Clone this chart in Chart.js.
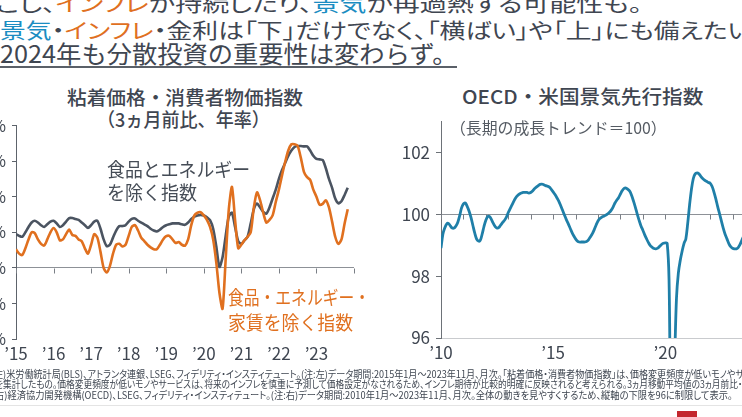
<!DOCTYPE html>
<html lang="ja">
<head>
<meta charset="utf-8">
<title>粘着価格・消費者物価指数 / OECD・米国景気先行指数</title>
<script src="https://cdn.jsdelivr.net/npm/chart.js@4.4.0/dist/chart.umd.min.js"></script>
<style>
  html, body { margin: 0; padding: 0; }
  body {
    width: 742px; height: 417px; overflow: hidden; position: relative;
    background: #fff; color: #3f4651;
    font-family: "Noto Sans CJK JP", "Noto Sans", sans-serif;
  }
  .t { position: absolute; white-space: nowrap; line-height: 1; display: inline-block; transform-origin: 0 0; }
  .p { font-feature-settings: "palt" 1; }
  .or { color: #e0701f; }
  .bl { color: #1b8dc2; }
  canvas { position: absolute; }
  #underline { position: absolute; left: 0; top: 66px; width: 457px; height: 2px; background: #5a6068; }
  #sep { position: absolute; left: 0; top: 405px; width: 742px; height: 1px; background: #e4e4e4; }
  #logo { position: absolute; left: 677px; top: 411px; width: 20px; height: 6px; background: #c3272e; }
</style>
</head>
<body>

<div class="t p" style="left:-4px; top:-8px; font-size:21px" data-w="646">こし、<span class="or">インフレ</span>が持続したり、<span class="bl">景気</span>が再過熱する可能性も。</div>
<div class="t p" style="left:0; top:19px; font-size:21px" data-w="752"><span class="bl">景気</span>・<span class="or">インフレ</span>・金利は「下」だけでなく、「横ばい」や「上」にも備えたい</div>
<div class="t" style="left:0; top:41px; font-size:24px" data-w="457">2024年も分散投資の重要性は変わらず。</div>
<div id="underline"></div>

<div class="t" style="left:67px; top:87px; font-size:19px; font-weight:500" data-w="236">粘着価格・消費者物価指数</div>
<div class="t" style="left:97px; top:109px; font-size:19px; font-weight:500" data-w="173">（3ヵ月前比、年率）</div>
<div class="t" style="left:462px; top:86px; font-size:19px; font-weight:500" data-w="241">OECD・米国景気先行指数</div>

<canvas id="cpiChart" width="400" height="259" style="left:-30px; top:110px; width:400px; height:259px"></canvas>
<canvas id="cliChart" width="390" height="263" style="left:380px; top:105px; width:390px; height:263px"></canvas>

<div class="t" style="left:107px; top:159px; font-size:19px; color:#454c56" data-w="143">食品とエネルギー</div>
<div class="t" style="left:107px; top:182px; font-size:19px; color:#454c56" data-w="90">を除く指数</div>
<div class="t or" style="left:228px; top:287px; font-size:19px" data-w="142">食品・エネルギー・</div>
<div class="t or" style="left:228px; top:312px; font-size:19px" data-w="125">家賃を除く指数</div>
<div class="t" style="left:450px; top:119px; font-size:16px; color:#555b63" data-w="217">（長期の成長トレンド＝100）</div>

<div class="t p" style="left:-6px; top:369px; font-size:10px; color:#3f4651" data-w="750">左)米労働統計局(BLS)、アトランタ連銀、LSEG、フィデリティ・インスティテュート。(注:左)データ期間:2015年1月～2023年11月、月次。「粘着価格・消費者物価指数」は、価格変更頻度が低いモノやサ</div>
<div class="t p" style="left:-5px; top:379px; font-size:10px; color:#3f4651" data-w="747">を集計したもの。価格変更頻度が低いモノやサービスは、将来のインフレを慎重に予測して価格設定がなされるため、インフレ期待が比較的明確に反映されると考えられる。3ヵ月移動平均値の3ヵ月前比・</div>
<div class="t p" style="left:-5px; top:390px; font-size:10px; color:#3f4651" data-w="738">右)経済協力開発機構(OECD)、LSEG、フィデリティ・インスティテュート。(注:右)データ期間:2010年1月～2023年11月、月次。全体の動きを見やすくするため、縦軸の下限を96に制限して表示。</div>
<div id="sep"></div>
<div id="logo"></div>

<script>
// 粘着価格CPI（3ヵ月前比年率、%）2015年1月〜2023年11月
const stickyCore = [
  1.9, 1.8, 1.75, 2.0, 2.3, 2.55, 2.65, 2.55, 2.4, 2.3, 2.45, 2.6,
  2.65, 2.5, 2.3, 2.4, 2.6, 2.8, 2.8, 2.75, 2.7, 2.55, 2.4, 2.25,
  2.4, 2.6, 2.65, 2.2, 1.6, 1.22, 1.3, 1.7, 2.1, 2.35, 2.35, 2.4,
  2.6, 2.75, 2.78, 2.65, 2.55, 2.45, 2.35, 2.2, 2.1, 2.05, 2.15, 2.3,
  2.4, 2.45, 2.5, 2.5, 2.5, 2.45, 2.42, 2.55, 2.75, 2.88, 2.95, 2.98,
  2.95, 2.85, 2.68, 2.2, 1.2, 0.05, 0.6, 1.8, 2.9, 3.1, 2.3, 1.5,
  1.35, 1.55, 1.75, 2.5, 3.3, 3.62, 3.4, 3.15, 3.05, 3.4, 3.9, 4.4,
  5.0, 5.5, 5.9, 6.3, 6.6, 6.8, 6.85, 6.85, 6.83, 6.83, 6.6, 6.3,
  6.13, 6.1, 6.06, 5.6, 5.0, 4.5, 3.9, 3.63, 3.75, 4.1, 4.5
];
const stickyExShelter = [
  1.04, 0.8, 0.72, 1.1, 1.6, 2.0, 1.95, 1.6, 1.35, 1.26, 1.6, 2.0,
  2.24, 2.0, 1.55, 1.6, 1.9, 2.15, 1.85, 1.8, 1.6, 1.5, 1.1, 0.8,
  1.3, 1.9, 1.7, 0.9, 0.0, -0.26, 0.1, 0.8, 1.3, 1.35, 1.2, 1.3,
  1.8, 2.3, 2.4, 2.1, 1.7, 1.5, 1.3, 1.15, 1.05, 1.05, 1.3, 1.6,
  1.78, 1.8, 1.6, 1.4, 1.45, 1.3, 1.25, 1.6, 2.4, 2.95, 3.1, 3.13,
  2.95, 2.7, 2.3, 1.6, 0.3, -1.4, -2.3, 0.5, 3.3, 4.55, 2.7, 1.1,
  1.3, 1.55, 1.75, 2.0, 3.4, 4.25, 3.8, 3.1, 2.55, 2.7, 2.95, 3.7,
  4.4, 5.2, 5.95, 6.6, 6.95, 6.95, 6.85, 6.2, 5.4, 5.1, 4.95, 4.4,
  4.0, 3.55, 3.6, 3.8, 3.4, 2.6, 1.75, 1.35, 1.6, 2.5, 3.3
];
const cpiYearLabels = ['’15', '’16', '’17', '’18', '’19', '’20', '’21', '’22', '’23'];
const cpiYTicks = [-4, -2, 0, 2, 4, 6, 8];

// OECD景気先行指数（米国）2010年1月〜2023年11月
const usCli = [
  98.9, 99.35, 99.55, 99.68, 99.7, 99.62, 99.55, 99.55, 99.62, 99.74, 99.95, 100.2,
  100.33, 100.36, 100.25, 100.1, 99.9, 99.65, 99.4, 99.2, 99.13, 99.15, 99.35, 99.6,
  99.8, 99.92, 99.92, 99.82, 99.7, 99.6, 99.55, 99.57, 99.65, 99.73, 99.8, 99.9,
  100.05, 100.18, 100.3, 100.42, 100.53, 100.6, 100.65, 100.68, 100.7, 100.7, 100.7, 100.68,
  100.7, 100.75, 100.82, 100.87, 100.92, 100.96, 100.97, 100.95, 100.92, 100.9, 100.87, 100.8,
  100.72, 100.63, 100.53, 100.42, 100.28, 100.13, 99.98, 99.83, 99.7, 99.56, 99.42, 99.3,
  99.2, 99.13, 99.1, 99.1, 99.1, 99.1, 99.12, 99.18, 99.27, 99.37, 99.5, 99.65,
  99.78, 99.86, 99.9, 99.93, 99.96, 100.0, 100.05, 100.12, 100.22, 100.35, 100.45, 100.53,
  100.65, 100.76, 100.83, 100.84, 100.8, 100.74, 100.6, 100.42, 100.22, 100.0, 99.8, 99.62,
  99.48, 99.33, 99.2, 99.08, 98.98, 98.93, 98.89, 98.88, 98.9, 98.96, 99.02, 99.06,
  99.07, 99.06, 97.9, 93.3, 93.6, 95.3, 97.3, 98.1, 98.5, 98.8, 99.05, 99.2,
  99.7, 100.3, 100.8, 101.15, 101.3, 101.33, 101.3, 101.22, 101.15, 101.1, 101.06, 101.02,
  101.0, 100.9, 100.72, 100.5, 100.25, 100.02, 99.78, 99.55, 99.35, 99.2, 99.05, 98.95,
  98.9, 98.88, 98.88, 98.92, 99.02, 99.16, 99.3, 99.42, 99.52, 99.6, 99.67
];
const cliYearLabels = ['’10', '’15', '’20'];
const cliYTicks = [96, 98, 100, 102];

Chart.defaults.font.family = '"Noto Sans CJK JP", "Noto Sans", sans-serif';
Chart.defaults.color = '#3f4651';
Chart.defaults.animation = false;

// short tick marks hanging below the reference line (0 / 100)
const baseTicks = {
    id: 'baseTicks',
    beforeDatasetsDraw(chart, args, opts) {
        const { ctx, scales: { x, y } } = chart;
        const py = Math.round(y.getPixelForValue(opts.value)) + 0.5;
        ctx.save();
        ctx.strokeStyle = opts.color;
        ctx.lineWidth = 1;
        ctx.beginPath();
        x.ticks.forEach(t => {
            const px = Math.round(x.getPixelForValue(t.value)) + 0.5;
            ctx.moveTo(px, py);
            ctx.lineTo(px, py + opts.len);
        });
        ctx.stroke();
        ctx.restore();
    }
};

const toPoints = arr => arr.map((v, i) => ({ x: i, y: v }));

new Chart(document.getElementById('cpiChart'), {
    type: 'line',
    data: {
        datasets: [
            {
                label: '食品・エネルギー・家賃を除く指数',
                data: toPoints(stickyExShelter),
                borderColor: '#e0701f',
                borderWidth: 2.6,
                pointRadius: 0,
                tension: 0.25
            },
            {
                label: '食品とエネルギーを除く指数',
                data: toPoints(stickyCore),
                borderColor: '#4b5461',
                borderWidth: 2.6,
                pointRadius: 0,
                tension: 0.25
            }
        ]
    },
    options: {
        responsive: false,
        layout: { padding: { top: 13, right: 16, left: 0, bottom: 0 } },
        plugins: {
            legend: { display: false },
            tooltip: { enabled: false },
            baseTicks: { value: 0, len: 5, color: '#7a7f86' }
        },
        scales: {
            x: {
                type: 'linear',
                min: 0,
                max: 108,
                afterFit: s => { s.height = 30; },
                border: { display: false },
                grid: { display: false, drawTicks: false },
                ticks: {
                    stepSize: 12,
                    autoSkip: false,
                    maxRotation: 0,
                    padding: 4,
                    font: { size: 17 },
                    callback: v => cpiYearLabels[v / 12] || ''
                }
            },
            y: {
                min: -4,
                max: 8,
                afterFit: s => { s.width = 46; },
                afterBuildTicks: s => { s.ticks = cpiYTicks.map(v => ({ value: v })); },
                border: { display: true, color: '#5d636b', width: 1 },
                grid: {
                    drawOnChartArea: true,
                    color: c => (c.tick && c.tick.value === 0) ? '#8d9197' : 'rgba(0,0,0,0)',
                    tickColor: '#5d636b',
                    tickLength: 4
                },
                ticks: {
                    padding: 6,
                    font: { size: 16 },
                    callback: v => v + '%'
                }
            }
        }
    },
    plugins: [baseTicks]
});

new Chart(document.getElementById('cliChart'), {
    type: 'line',
    data: {
        datasets: [{
            label: 'OECD・米国景気先行指数',
            data: toPoints(usCli),
            borderColor: '#1f7fa8',
            borderWidth: 2.8,
            pointRadius: 0,
            tension: 0.35
        }]
    },
    options: {
        responsive: false,
        layout: { padding: { top: 12, right: 15, left: 0, bottom: 0 } },
        plugins: {
            legend: { display: false },
            tooltip: { enabled: false },
            baseTicks: { value: 100, len: 5, color: '#7a7f86' }
        },
        scales: {
            x: {
                type: 'linear',
                min: 0,
                max: 168,
                afterFit: s => { s.height = 30; },
                border: { display: false },
                grid: { display: false, drawTicks: false },
                ticks: {
                    stepSize: 12,
                    autoSkip: false,
                    maxRotation: 0,
                    padding: 4,
                    font: { size: 17 },
                    callback: v => (v % 60 === 0) ? (cliYearLabels[v / 60] || '') : ''
                }
            },
            y: {
                min: 96,
                max: 103,
                afterFit: s => { s.width = 61; },
                afterBuildTicks: s => { s.ticks = cliYTicks.map(v => ({ value: v })); },
                border: { display: true, color: '#6d7278', width: 1 },
                grid: {
                    drawOnChartArea: true,
                    color: c => {
                        if (!c.tick) return 'rgba(0,0,0,0)';
                        if (c.tick.value === 100) return '#8d9197';
                        if (c.tick.value === 96) return '#c9cbce';
                        return 'rgba(0,0,0,0)';
                    },
                    tickColor: '#6d7278',
                    tickLength: 5
                },
                ticks: {
                    padding: 6,
                    font: { size: 17 }
                }
            }
        }
    },
    plugins: [baseTicks]
});

// squeeze each text line to the width it has on the slide
function fitTexts() {
    document.querySelectorAll('[data-w]').forEach(el => {
        el.style.transform = 'none';
        const w = el.offsetWidth;
        if (w > 0) el.style.transform = 'scaleX(' + (parseFloat(el.dataset.w) / w) + ')';
    });
}
fitTexts();
if (document.fonts && document.fonts.ready) document.fonts.ready.then(fitTexts);
</script>
</body>
</html>
